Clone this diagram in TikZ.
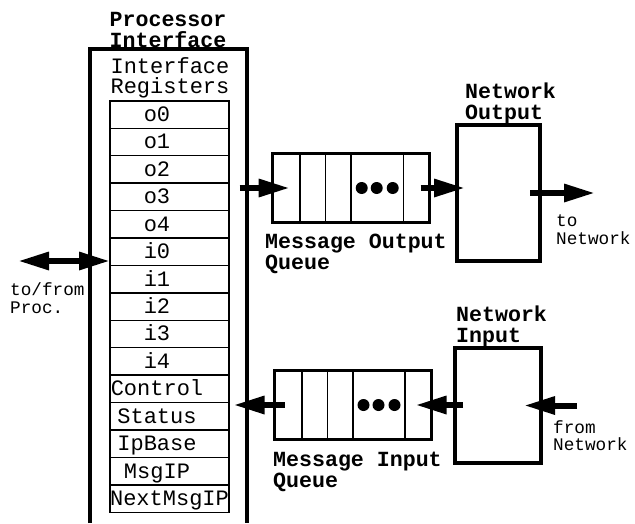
\documentclass[tikz,border=0pt]{standalone}
\usepackage{fontspec}
\setmainfont{Liberation Mono}
\usepackage{tikz}
\usetikzlibrary{arrows.meta}
\usetikzlibrary{positioning}
\tikzset{
	reg node/.style={rectangle,draw,line width=1.4pt,outer sep=0pt,inner sep=0pt,
		minimum width=119pt,minimum height=27.43pt},
	reg text/.style={anchor=base,inner sep=0pt,font=\fontsize{22}{22}\selectfont},
	title node/.style={align=left,inner sep=0pt,font=\bfseries\fontsize{21.6}{21}\selectfont},
	note node/.style={align=left,inner sep=0pt,font=\fontsize{17.7}{17.5}\selectfont},
	box node/.style={rectangle,draw,line width=3.5pt,outer sep=0pt,inner sep=0pt},
	queue node/.style={rectangle,draw,line width=3pt,outer sep=0pt,inner sep=0pt,
		minimum width=157pt,minimum height=69pt},
	flow/.style={line width=6pt}
}

\begin{document}
\begin{tikzpicture}[x=1pt,y=-1pt,>={Triangle[length=31pt,width=17pt]}]
\useasboundingbox (0,0) rectangle (635,523);
% processor interface, open at the bottom
\draw [line width=3.5pt] (90,523) -- (90,49) -- (247,49) -- (247,523);
\node [title node,align=center] (pi) at (168,30) {Processor\\Interface};
\node [reg text,anchor=center,align=center,font=\fontsize{22}{20}\selectfont] (ir) at (170,78) {Interface\\Registers};
\foreach \t/\dx [count=\i] in {o0/-12.5,o1/-12.5,o2/-12.5,o3/-12.5,o4/-12.5,i0/-12.5,i1/-12.5,i2/-12.5,i3/-12.5,i4/-12.5,Control/-12.5,Status/-12.5,IpBase/-12.5,MsgIP/-12.5,NextMsgIP/0}{
	\node [reg node] (r\i) at (169.5,{100.8+27.43*(\i-0.5)}) {};
	\node [reg text] at ([xshift=\dx pt,yshift=-7pt]r\i.center) {\t};
}
% queues
\node [queue node] (oq) at (351.2,188) {};
\node [queue node] (iq) at (353,405) {};
\foreach \q in {oq,iq}{
	\foreach \d in {27.5,53,78.5,130.7}
		\draw [line width=1.5pt] ([xshift=\d pt]\q.north west) -- ([xshift=\d pt]\q.south west);
	\foreach \d in {89,104,120}
		\fill ([xshift=\d pt]\q.west) circle (6pt);
}
% network side
\node [box node,minimum width=83pt,minimum height=136pt] (no) at (498.5,193) {};
\node [box node,minimum width=86pt,minimum height=115pt] (ni) at (498,405.5) {};
% labels
\node [title node,anchor=west] (oql) at (265,253.5) {Message Output\\Queue};
\node [title node,anchor=west] (iql) at (273,471.5) {Message Input\\Queue};
\node [title node,anchor=west] (nol) at (465,103) {Network\\Output};
\node [title node,anchor=west] (nil) at (456,326) {Network\\Input};
\node [note node,anchor=west] (pl) at (10,298) {to/from\\Proc.};
\node [note node,anchor=west] (tn) at (556,229.5) {to\\Network};
\node [note node,anchor=west] (fn) at (553,435.5) {from\\Network};
% data paths
\coordinate (proc) at (18,261);
\draw [flow,<->] (proc) -- (r6.west |- proc);
\draw [flow,->] ([xshift=-33pt]oq.west) -- ([xshift=17pt]oq.west);
\draw [flow,->] ([xshift=-9pt]oq.east) -- ([xshift=8pt]no.west |- oq.east);
\draw [flow,->] ([xshift=-10pt]no.east) -- ([xshift=55pt]no.east);
\draw [flow,->] ([xshift=36pt]ni.east) -- ([xshift=-17pt]ni.east);
\draw [flow,->] ([xshift=8pt]iq.east -| ni.west) -- ([xshift=-16pt]iq.east);
\draw [flow,->] ([xshift=10pt]iq.west) -- ([xshift=-41pt]iq.west);
\end{tikzpicture}
\end{document}
